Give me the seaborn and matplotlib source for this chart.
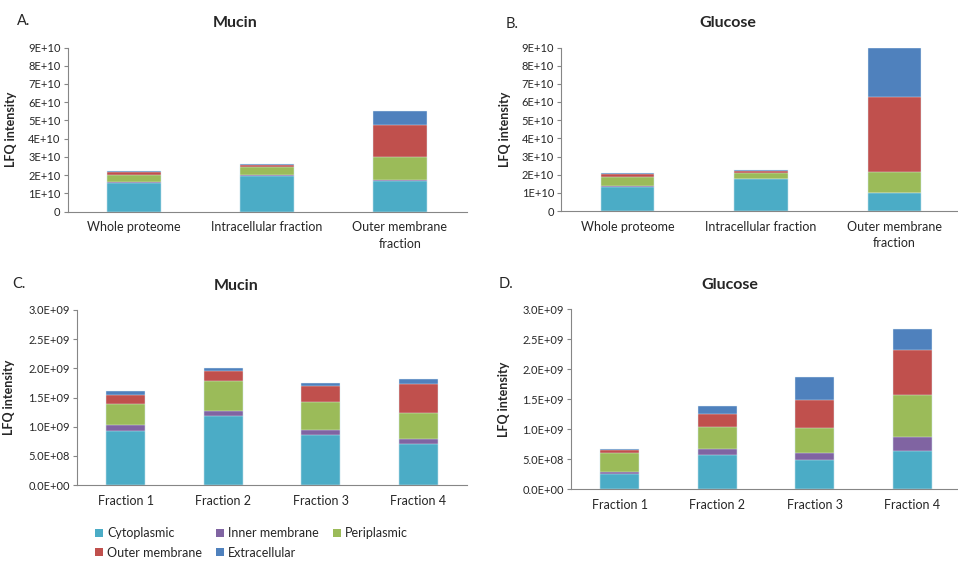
import numpy as np
import pandas as pd
import seaborn as sns
import matplotlib.pyplot as plt
from matplotlib.patches import Patch

# compartments, bottom to top of each stack
compartments = ["Cytoplasmic", "Inner membrane", "Periplasmic", "Outer membrane", "Extracellular"]
colors = ["#4BACC6", "#8064A2", "#9BBB59", "#C0504D", "#4F81BD"]

top_groups = ["Whole proteome", "Intracellular fraction", "Outer membrane\nfraction"]
frac_groups = ["Fraction 1", "Fraction 2", "Fraction 3", "Fraction 4"]

# rows = compartments, columns = groups
mucin_top = [
    [1.55e10, 1.97e10, 1.68e10],
    [0.05e10, 0.03e10, 0.03e10],
    [0.40e10, 0.45e10, 1.29e10],
    [0.15e10, 0.10e10, 1.72e10],
    [0.07e10, 0.05e10, 0.80e10],
]
glucose_top = [
    [1.34e10, 1.75e10, 0.97e10],
    [0.05e10, 0.03e10, 0.02e10],
    [0.50e10, 0.33e10, 1.16e10],
    [0.15e10, 0.08e10, 4.15e10],
    [0.07e10, 0.07e10, 2.67e10],
]
mucin_frac = [
    [0.93e9, 1.19e9, 0.86e9, 0.70e9],
    [0.10e9, 0.08e9, 0.09e9, 0.09e9],
    [0.36e9, 0.52e9, 0.47e9, 0.44e9],
    [0.16e9, 0.17e9, 0.28e9, 0.51e9],
    [0.06e9, 0.04e9, 0.05e9, 0.08e9],
]
glucose_frac = [
    [0.245e9, 0.57e9, 0.49e9, 0.63e9],
    [0.045e9, 0.09e9, 0.11e9, 0.23e9],
    [0.31e9, 0.38e9, 0.415e9, 0.70e9],
    [0.05e9, 0.21e9, 0.475e9, 0.75e9],
    [0.01e9, 0.14e9, 0.38e9, 0.36e9],
]

top_ticks = [0, 1e10, 2e10, 3e10, 4e10, 5e10, 6e10, 7e10, 8e10, 9e10]
top_labels = ["0", "1E+10", "2E+10", "3E+10", "4E+10", "5E+10", "6E+10", "7E+10", "8E+10", "9E+10"]
frac_ticks = [0, 0.5e9, 1.0e9, 1.5e9, 2.0e9, 2.5e9, 3.0e9]
frac_labels = ["0.0E+00", "5.0E+08", "1.0E+09", "1.5E+09", "2.0E+09", "2.5E+09", "3.0E+09"]

sns.set_style("white")
plt.rcParams["font.family"] = ["Lato", "DejaVu Sans"]

W, H = 958, 561
fig = plt.figure(figsize=(W / 100, H / 100), dpi=100)
axis_gray = "#868686"
text_col = "#262626"


def px_axes(left, right, top, bottom):
    return fig.add_axes([left / W, 1 - bottom / H, (right - left) / W, (bottom - top) / H])


def stacked(ax, groups, rows, ticks, labels, ylab_x):
    df = pd.DataFrame(np.array(rows).T, columns=compartments)
    df["group"] = groups
    cum = df[compartments].cumsum(axis=1)
    # draw cumulative totals from the top down so each layer shows
    for comp, col in reversed(list(zip(compartments, colors))):
        sns.barplot(x=df["group"], y=cum[comp], color=col, saturation=1,
                    width=0.4, edgecolor="#e6f3f7", linewidth=0.3, ax=ax)
    n = len(groups)
    ax.set_xlim(-0.5, n - 0.5)
    ax.set_ylim(0, ticks[-1])
    ax.set_yticks(ticks)
    ax.set_yticklabels(labels, fontsize=8, color=text_col)
    ax.set_xticks(range(n))
    ax.set_xticklabels(groups, fontsize=9, color=text_col, linespacing=1.45)
    ax.set_xticks(np.arange(-0.5, n), minor=True)
    ax.tick_params(axis="x", which="major", length=0, pad=7)
    ax.tick_params(axis="x", which="minor", length=4, color=axis_gray, width=0.8, direction="out")
    ax.tick_params(axis="y", length=3, color=axis_gray, width=0.8, direction="out", pad=2, left=True)
    for s in ["top", "right"]:
        ax.spines[s].set_visible(False)
    for s in ["left", "bottom"]:
        ax.spines[s].set_color(axis_gray)
        ax.spines[s].set_linewidth(0.8)
    ax.set_xlabel("")
    ax.set_ylabel("LFQ intensity", fontsize=9, fontweight="bold", color=text_col)
    ax.yaxis.set_label_coords(ylab_x, 0.5)


ax_a = px_axes(67.5, 466.5, 47.5, 211.5)
stacked(ax_a, top_groups, mucin_top, top_ticks, top_labels, (17 - 67.5) / 399)
ax_b = px_axes(561, 961, 47.5, 211)
stacked(ax_b, top_groups, glucose_top, top_ticks, top_labels, (511 - 561) / 400)
ax_c = px_axes(77, 467, 310, 485)
stacked(ax_c, frac_groups, mucin_frac, frac_ticks, frac_labels, (15 - 77) / 390)
ax_d = px_axes(571, 961, 309, 489)
stacked(ax_d, frac_groups, glucose_frac, frac_ticks, frac_labels, (510 - 571) / 390)

# titles and panel letters
for x, y, t in [(235, 23, "Mucin"), (728, 23, "Glucose"), (236, 286, "Mucin"), (730, 285, "Glucose")]:
    fig.text(x / W, 1 - y / H, t, ha="center", va="center", fontsize=11.5, fontweight="bold", color=text_col)
for x, y, t in [(17, 21, "A."), (506, 24, "B."), (12, 284, "C."), (499, 284, "D.")]:
    fig.text(x / W, 1 - y / H, t, ha="left", va="center", fontsize=10.5, color=text_col)

# legend filled row by row like the original (matplotlib fills by column)
leg_order = [0, 3, 1, 4, 2]
handles = [Patch(facecolor=colors[i], edgecolor="none") for i in leg_order]
fig.legend(handles, [compartments[i] for i in leg_order], ncol=3, frameon=False, fontsize=9,
           loc="center left", bbox_to_anchor=(95 / W, 1 - 543 / H),
           handlelength=0.6, handleheight=0.6, handletextpad=0.35,
           columnspacing=1.15, labelspacing=0.6, borderaxespad=0, borderpad=0,
           labelcolor=text_col)

fig.savefig("out.png", dpi=100)
